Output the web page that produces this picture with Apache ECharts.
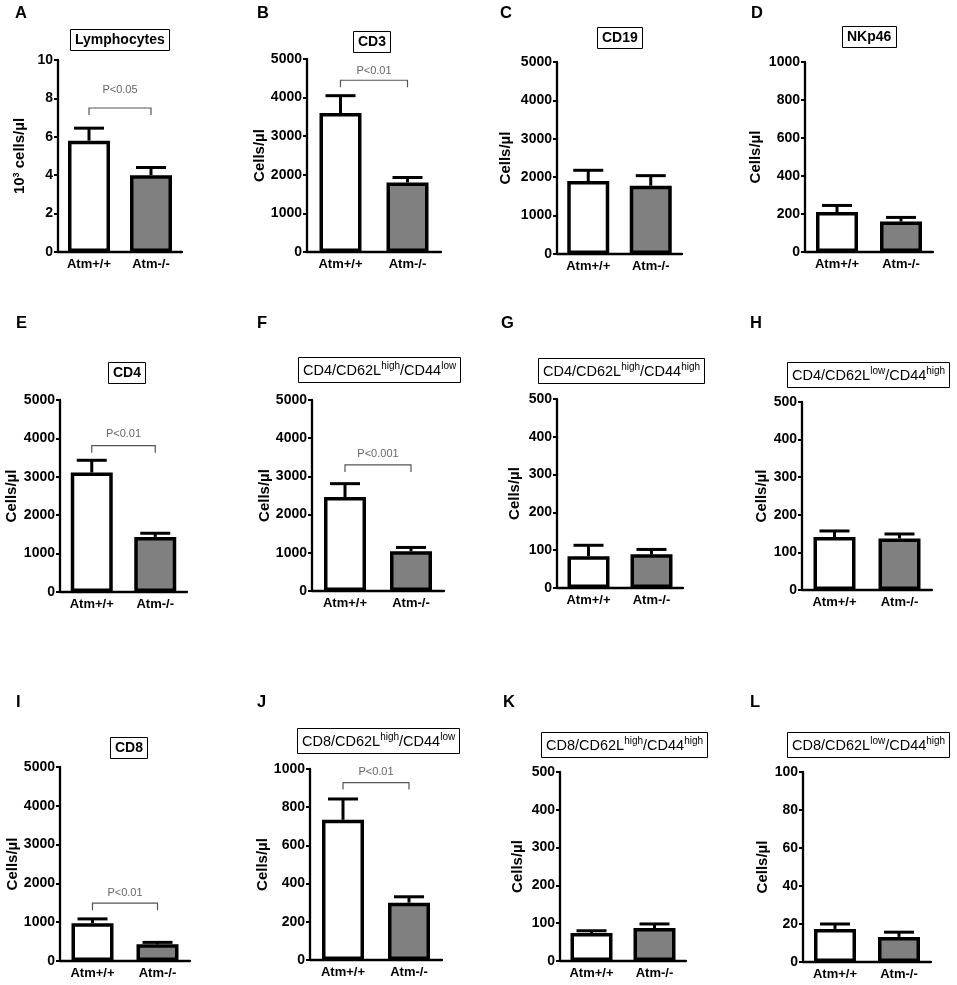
<!DOCTYPE html>
<html>
<head>
<meta charset="utf-8">
<script src="https://cdn.jsdelivr.net/npm/echarts@6/dist/echarts.min.js"></script>
<style>
html,body{margin:0;padding:0;background:#fff;}
#main{width:957px;height:985px;}
</style>
</head>
<body>
<div id="main"></div>
<script>
// ---------- data ----------
const categories = ['Atm+/+', 'Atm-/-'];
const panelLetters = ['A','B','C','D','E','F','G','H','I','J','K','L'];
const panelTitles = [
  '{b|Lymphocytes}', '{b|CD3}', '{b|CD19}', '{b|NKp46}',
  '{b|CD4}', '{m|CD4/CD62L}{s|high}{m|/CD44}{s|low}', '{m|CD4/CD62L}{s|high}{m|/CD44}{s|high}', '{m|CD4/CD62L}{s|low}{m|/CD44}{s|high}',
  '{b|CD8}', '{m|CD8/CD62L}{s|high}{m|/CD44}{s|low}', '{m|CD8/CD62L}{s|high}{m|/CD44}{s|high}', '{m|CD8/CD62L}{s|low}{m|/CD44}{s|high}'
];
const yAxisNames = ['10{s|3} cells/µl','Cells/µl','Cells/µl','Cells/µl','Cells/µl','Cells/µl','Cells/µl','Cells/µl','Cells/µl','Cells/µl','Cells/µl','Cells/µl'];
const yMax      = [10, 5000, 5000, 1000, 5000, 5000, 500, 500, 5000, 1000, 500, 100];
const yInterval = [2, 1000, 1000, 200, 1000, 1000, 100, 100, 1000, 200, 100, 20];
const meansWT = [5.8, 3600, 1900, 210, 3110, 2460, 84, 141, 975, 734, 74, 17.4];
const errWT   = [0.65, 450, 280, 35, 320, 350, 29, 16, 110, 109, 6, 2.6];
const meansKO = [4.0, 1800, 1780, 160, 1435, 1040, 89, 137, 430, 300, 87, 13.2];
const errKO   = [0.4, 130, 260, 22, 95, 100, 13, 12, 50, 31, 11, 2.5];
const pLabels  = ['P<0.05', 'P<0.01', null, null, 'P<0.01', 'P<0.001', null, null, 'P<0.01', 'P<0.01', null, null];
const bracketY = [7.5, 4450, null, null, 3810, 3300, null, null, 1490, 929, null, null];

// ---------- layout (pixels) ----------
const grids = [
  [58,60,124,192],[307,59,134,193],[557,62,125,192],[805,62,128,190],
  [60,400,127,192],[312,400,132,191],[557,399,126,189],[802,402,130,188],
  [60,767,130,194],[310,769,132,191],[560,772,126,189],[803,772,128,190]
];
const titlePos = [
  [70,27],[353,29],[597,25],[842,24],
  [108,360],[298,357],[538,358],[787,362],
  [110,735],[297,728],[541,732],[787,732]
];
const letterPos = [
  [15,5],[257,5],[500,5],[751,5],
  [16,315],[257,315],[501,315],[750,315],
  [16,694],[257,694],[503,694],[750,694]
];
const nameGaps = [31,36,44,42,41,37,35,32,39,37,35,33];
const labelLift = [18, 9, 0, 0, 12, 11, 0, 0, 10, 11, 0, 0];

const FONT = 'Liberation Sans, Arial, sans-serif';
const option = {
  animation: false,
  backgroundColor: '#fff',
  textStyle: {fontFamily: FONT},
  grid: [], xAxis: [], yAxis: [], series: [], title: []
};

for (let i = 0; i < 12; i++) {
  const g = grids[i];
  option.grid.push({left: g[0], top: g[1], width: g[2], height: g[3], containLabel: false, outerBoundsMode: 'none'});
  option.xAxis.push({
    type: 'category', gridIndex: i, data: categories,
    axisLine: {lineStyle: {color: '#000', width: 2.3}},
    axisTick: {alignWithLabel: true, length: 5, lineStyle: {color: '#000', width: 2}},
    axisLabel: {color: '#000', fontWeight: 'bold', fontSize: 13, margin: 6, fontFamily: FONT}
  });
  option.yAxis.push({
    type: 'value', gridIndex: i, min: 0, max: yMax[i], interval: yInterval[i],
    name: yAxisNames[i], nameLocation: 'middle', nameRotate: 90, nameGap: nameGaps[i],
    nameTextStyle: {color: '#000', fontWeight: 'bold', fontSize: 15, fontFamily: FONT,
      rich: {s: {fontSize: 9, fontWeight: 'bold', verticalAlign: 'top', lineHeight: 9, fontFamily: FONT}}},
    axisLine: {show: true, lineStyle: {color: '#000', width: 2.3}},
    axisTick: {show: true, length: 4, lineStyle: {color: '#000', width: 2}},
    splitLine: {show: false},
    axisLabel: {color: '#000', fontWeight: 'bold', fontSize: 14, margin: 5, fontFamily: FONT,
      formatter: function (v) { return String(v); }}
  });
  option.series.push({
    type: 'bar', xAxisIndex: i, yAxisIndex: i, barWidth: 42,
    itemStyle: {borderColor: '#000', borderWidth: 3.5},
    data: [
      {value: meansWT[i], itemStyle: {color: '#ffffff'}},
      {value: meansKO[i], itemStyle: {color: '#808080'}}
    ],
    z: 2
  });
  option.series.push({
    type: 'custom', xAxisIndex: i, yAxisIndex: i, z: 3,
    data: [[0, meansWT[i], meansWT[i] + errWT[i]], [1, meansKO[i], meansKO[i] + errKO[i]]],
    renderItem: function (params, api) {
      const x = api.value(0);
      const p0 = api.coord([x, api.value(1)]);
      const p1 = api.coord([x, api.value(2)]);
      return {type: 'group', children: [
        {type: 'line', shape: {x1: p0[0], y1: p0[1], x2: p1[0], y2: p1[1]}, style: {stroke: '#000', lineWidth: 3}},
        {type: 'line', shape: {x1: p1[0] - 15, y1: p1[1], x2: p1[0] + 15, y2: p1[1]}, style: {stroke: '#000', lineWidth: 3}}
      ]};
    }
  });
  if (pLabels[i]) {
    const lab = pLabels[i];
    const lift = labelLift[i];
    option.series.push({
      type: 'custom', xAxisIndex: i, yAxisIndex: i, z: 4,
      data: [[0, 1, bracketY[i]]],
      renderItem: function (params, api) {
        const a = api.coord([api.value(0), api.value(2)]);
        const b = api.coord([api.value(1), api.value(2)]);
        return {type: 'group', children: [
          {type: 'polyline', shape: {points: [[a[0], a[1] + 7], [a[0], a[1]], [b[0], b[1]], [b[0], b[1] + 7]]},
            style: {stroke: '#555', lineWidth: 1.2, fill: null}},
          {type: 'text', style: {text: lab, x: (a[0] + b[0]) / 2, y: a[1] - lift, align: 'center', verticalAlign: 'middle',
            fill: '#666', fontSize: 11, fontFamily: FONT}}
        ]};
      }
    });
  }
  option.title.push({
    text: panelTitles[i], left: titlePos[i][0], top: titlePos[i][1],
    borderColor: '#000', borderWidth: 1, padding: [4, 5, 4, 5],
    textStyle: {fontFamily: FONT, rich: {
      b: {fontSize: 14, fontWeight: 'bold', color: '#000', lineHeight: 18, fontFamily: FONT},
      m: {fontSize: 14.5, fontWeight: 'normal', color: '#000', lineHeight: 20, fontFamily: FONT},
      s: {fontSize: 10, fontWeight: 'normal', color: '#000', verticalAlign: 'top', lineHeight: 10, fontFamily: FONT}
    }}
  });
  option.title.push({
    text: panelLetters[i], left: letterPos[i][0], top: letterPos[i][1], padding: 0,
    textStyle: {fontFamily: FONT, fontSize: 16.5, fontWeight: 'bold', color: '#000'}
  });
}

const chart = echarts.init(document.getElementById('main'), null, {renderer: 'canvas'});
chart.setOption(option);
</script>
</body>
</html>
